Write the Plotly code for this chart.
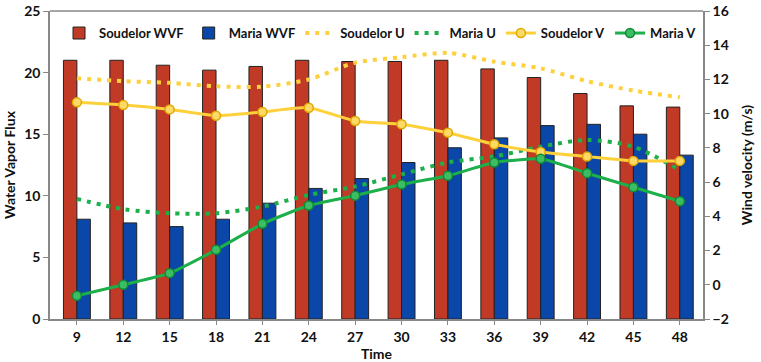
import plotly.graph_objects as go

time = ["9", "12", "15", "18", "21", "24", "27", "30", "33", "36", "39", "42", "45", "48"]
soudelor_wvf = [21.0, 21.0, 20.6, 20.2, 20.5, 21.0, 20.9, 20.9, 21.0, 20.3, 19.6, 18.3, 17.3, 17.2]
maria_wvf = [8.1, 7.8, 7.5, 8.1, 9.4, 10.6, 11.4, 12.7, 13.9, 14.7, 15.7, 15.8, 15.0, 13.3]
soudelor_u = [12.07, 11.9, 11.8, 11.6, 11.58, 12.0, 12.98, 13.3, 13.55, 13.04, 12.65, 11.9, 11.35, 10.96]
maria_u = [5.02, 4.42, 4.18, 4.18, 4.57, 5.25, 5.74, 6.45, 7.15, 7.5, 8.07, 8.46, 8.07, 6.7]
soudelor_v = [10.66, 10.5, 10.25, 9.88, 10.1, 10.35, 9.57, 9.38, 8.89, 8.21, 7.76, 7.49, 7.24, 7.24]
maria_v = [-0.64, 0.0, 0.68, 2.04, 3.56, 4.63, 5.21, 5.86, 6.37, 7.14, 7.36, 6.52, 5.7, 4.88]

RED = "#C03A26"
BLUE = "#0A47A8"
YEL = "#FDD03C"
GRN = "#1CAF4A"
FONT = "Lato"
BOLD14 = dict(family=FONT, size=14, color="#111", weight="bold")
BOLD13 = dict(family=FONT, size=13, color="#111", weight="bold")

fig = go.Figure()
fig.add_trace(go.Bar(x=time, y=soudelor_wvf, name="Soudelor WVF", marker=dict(color=RED, line=dict(color="#222", width=1))))
fig.add_trace(go.Bar(x=time, y=maria_wvf, name="Maria WVF", marker=dict(color=BLUE, line=dict(color="#222", width=1))))
fig.add_trace(go.Scatter(x=time, y=soudelor_u, name="Soudelor U", yaxis="y2", mode="lines",
                         line=dict(color=YEL, width=4, dash="4px,6px", shape="spline", smoothing=0.8)))
fig.add_trace(go.Scatter(x=time, y=maria_u, name="Maria U", yaxis="y2", mode="lines",
                         line=dict(color=GRN, width=4, dash="4px,6px", shape="spline", smoothing=0.8)))
fig.add_trace(go.Scatter(x=time, y=soudelor_v, name="Soudelor V", yaxis="y2", mode="lines+markers",
                         line=dict(color=YEL, width=3, shape="spline", smoothing=0.5),
                         marker=dict(symbol="circle", size=9, color="#FDDA66", line=dict(color="#E0A800", width=1.5))))
fig.add_trace(go.Scatter(x=time, y=maria_v, name="Maria V", yaxis="y2", mode="lines+markers",
                         line=dict(color=GRN, width=3, shape="spline", smoothing=0.5),
                         marker=dict(symbol="circle", size=9, color="#3DBD63", line=dict(color="#0F8A36", width=1.5))))

fig.update_layout(
    width=761, height=362,
    margin=dict(l=50, r=58, t=11, b=43, autoexpand=False),
    paper_bgcolor="white", plot_bgcolor="white",
    font=dict(family=FONT, size=14, color="#111"),
    barmode="group", bargap=0.42, bargroupgap=0,
    showlegend=True,
    legend=dict(orientation="h", x=0.0077, y=0.99, xanchor="left", yanchor="top",
                font=BOLD13, bgcolor="rgba(0,0,0,0)", bordercolor="rgba(0,0,0,0)", borderwidth=4,
                itemwidth=30, tracegroupgap=0),
    xaxis=dict(type="category", range=[-0.58, 13.5], showline=True, linecolor="#888", linewidth=1.5,
               ticks="outside", ticklen=4, tickcolor="#888", showgrid=False, automargin=False,
               tickfont=BOLD14, title=dict(text="Time", font=BOLD14, standoff=0)),
    yaxis=dict(range=[0, 25], dtick=5, showline=True, linecolor="#888", linewidth=1.5,
               ticks="outside", ticklen=5, tickcolor="#888", showgrid=False, zeroline=False, automargin=False,
               tickfont=BOLD14, title=dict(text="Water Vapor Flux", font=BOLD14, standoff=5)),
    yaxis2=dict(range=[-2, 16], dtick=2, overlaying="y", side="right", showline=True, linecolor="#888",
                linewidth=1.5, ticks="outside", ticklen=5, tickcolor="#888", showgrid=False, zeroline=False,
                automargin=False, tickfont=BOLD14,
                title=dict(text="Wind velocity (m/s)", font=BOLD14, standoff=14)),
    shapes=[dict(type="line", xref="paper", yref="paper", x0=0, x1=1, y0=1, y1=1,
                 line=dict(color="#888", width=1.5))],
)

fig.write_html("out.html", config={"displayModeBar": False},
               post_script="document.body.style.margin='0px';")
